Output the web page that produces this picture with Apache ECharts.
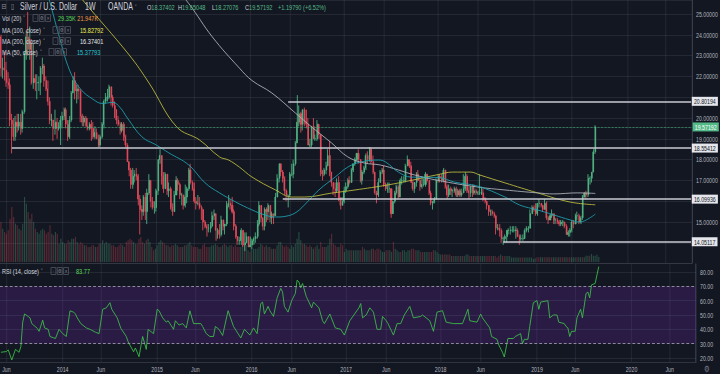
<!DOCTYPE html>
<html>
<head>
<meta charset="utf-8">
<script src="https://cdn.jsdelivr.net/npm/echarts@6/dist/echarts.min.js"></script>
<style>
html,body{margin:0;padding:0;background:#131722;width:720px;height:374px;overflow:hidden;}
#chart{width:1028px;height:374px;transform:scaleX(0.7003891);transform-origin:0 0;}
</style>
</head>
<body>
<div id="chart"></div>
<script>
// ---------------- DATA ----------------
const firstWeek = '2013-05-13';
const weekCount = 383;

// weekly candles [open, high, low, close]
const ohlc2013 = [
[23.9,24.0,22.0,22.4],[22.4,22.9,21.9,22.4],[22.4,23.2,21.8,22.3],[22.3,22.7,21.5,21.7],[21.7,22.2,21.4,21.6],
[21.6,21.9,19.6,19.9],[19.9,20.2,18.3,19.7],[19.7,20.0,18.9,19.1],[19.1,20.1,18.9,19.8],[19.8,20.2,19.3,19.6],
[19.6,20.2,19.4,19.8],[19.8,20.2,19.2,19.5],[19.5,20.4,19.3,20.3],[20.3,23.2,20.2,23.1],[23.1,24.2,22.8,23.9],
[23.9,25.1,23.0,23.3],[23.3,24.4,22.8,23.6],[23.6,23.8,21.6,21.7],[21.7,23.6,21.4,21.9],[21.9,22.1,21.3,21.7],
[21.7,22.1,20.9,21.7],[21.7,22.0,21.3,21.7],[21.7,22.5,21.1,22.4],[22.4,22.9,22.1,22.5],[22.5,22.6,21.5,21.8],
[21.8,22.0,21.3,21.4],[21.4,21.8,20.6,20.8],[20.8,21.0,19.7,19.9],[19.9,20.2,19.6,19.9],[19.9,19.9,18.9,19.5],
[19.5,20.4,19.2,19.8],[19.8,20.0,19.0,19.5],[19.5,19.8,19.4,19.6],[19.6,20.1,18.7,19.9]
];
const ohlc2014 = [
[19.9,20.3,19.5,20.1],[20.1,20.5,19.9,20.4],[20.4,20.5,19.5,19.7],[19.7,19.9,18.9,19.1],[19.1,20.1,19.0,19.9],
[19.9,21.3,19.8,21.2],[21.2,22.0,21.2,21.8],[21.8,22.2,20.9,21.3],[21.3,21.6,20.7,21.4],[21.4,21.6,20.9,21.3],
[21.3,21.4,19.8,20.1],[20.1,20.2,19.6,19.8],[19.8,20.1,19.6,20.0],[20.0,20.1,19.6,19.6],[19.6,20.0,19.4,19.5],
[19.5,19.8,19.4,19.7],[19.7,19.9,18.9,19.5],[19.5,19.8,19.0,19.1],[19.1,19.6,19.0,19.3],[19.3,19.5,19.0,19.0],
[19.0,19.2,18.6,18.7],[18.7,19.2,18.6,19.1],[19.1,19.8,19.0,19.7],[19.7,20.9,19.5,20.8],[20.8,21.2,20.7,21.0],
[21.0,21.4,20.8,21.0],[21.0,21.6,20.9,21.5],[21.5,21.5,20.6,21.0],[21.0,21.1,20.5,20.6],[20.6,20.8,20.0,20.4],
[20.4,20.4,19.7,19.9],[19.9,20.1,19.6,19.7],[19.7,19.8,19.2,19.4],[19.4,19.8,19.3,19.7],[19.7,19.8,18.9,19.1],
[19.1,19.2,18.6,18.7],[18.7,18.8,17.9,17.9],[17.9,17.9,17.2,17.5],[17.5,17.6,16.6,16.8],[16.8,17.6,16.6,17.2],
[17.2,17.5,16.9,17.3],[17.3,17.6,17.0,17.2],[17.2,17.3,15.8,16.1],[16.1,16.3,14.4,15.6],[15.6,15.8,15.1,15.5],
[15.5,16.3,15.3,16.2],[16.2,16.4,15.1,15.5],[15.5,16.6,14.9,16.4],[16.4,17.3,16.3,17.0],[17.0,17.0,15.7,16.0],
[16.0,16.2,15.6,15.7],[15.7,16.0,15.4,15.7]
];
const ohlc2015 = [
[15.7,16.6,15.5,16.5],[16.5,18.0,16.3,18.0],[18.0,18.5,17.8,18.2],[18.2,18.2,16.8,17.2],[17.2,17.4,16.4,16.6],
[16.6,17.4,16.6,17.3],[17.3,17.3,16.3,16.5],[16.5,16.9,16.2,16.6],[16.6,16.7,15.6,15.7],[15.7,15.9,15.3,15.5],
[15.5,16.5,15.5,16.3],[16.3,17.2,16.3,17.0],[17.0,17.1,16.5,16.8],[16.8,16.9,16.1,16.3],[16.3,16.4,15.8,16.3],
[16.3,16.3,15.6,15.8],[15.8,16.8,15.7,16.2],[16.2,16.7,15.9,16.6],[16.6,17.6,16.5,17.5],[17.5,17.8,16.8,16.9],
[16.9,17.0,16.5,16.6],[16.6,16.9,15.9,16.0],[16.0,16.2,15.6,15.9],[15.9,16.3,15.8,15.9],[15.9,16.2,15.6,15.7],
[15.7,15.8,15.1,15.6],[15.6,15.6,14.6,15.0],[15.0,15.1,14.7,14.8],[14.8,14.9,14.3,14.7],[14.7,14.9,14.5,14.7],
[14.7,15.0,14.5,14.8],[14.8,15.5,14.8,15.3],[15.3,15.6,15.1,15.4],[15.4,15.4,14.1,14.6],[14.6,14.7,14.2,14.6],
[14.6,14.9,14.2,14.4],[14.4,15.3,14.3,15.1],[15.1,15.1,14.6,14.8],[14.8,14.9,14.4,14.9],[14.9,16.0,14.8,15.8],
[15.8,16.3,15.7,15.9],[15.9,16.1,15.6,15.8],[15.8,16.2,15.4,15.5],[15.5,15.6,14.6,14.8],[14.8,14.9,14.2,14.3],
[14.3,14.3,13.9,14.1],[14.1,14.3,13.9,14.1],[14.1,14.7,13.9,14.6],[14.6,14.6,13.8,13.9],[13.9,14.5,13.6,14.0],
[14.0,14.5,14.0,14.3],[14.3,14.3,13.8,13.8]
];
const ohlc2016 = [
[13.8,14.3,13.8,13.9],[13.9,14.2,13.7,14.1],[14.1,14.3,13.9,14.2],[14.2,14.5,14.0,14.3],[14.3,15.1,14.2,14.9],
[14.9,16.0,14.8,15.8],[15.8,15.8,15.0,15.2],[15.2,15.2,14.6,14.8],[14.8,15.7,14.6,15.6],[15.6,15.7,15.0,15.5],
[15.5,15.9,15.1,15.8],[15.8,15.8,15.0,15.2],[15.2,15.5,14.9,15.4],[15.4,15.4,14.9,15.3],[15.3,16.4,15.3,16.2],
[16.2,17.3,16.2,17.1],[17.1,17.8,16.9,17.8],[17.8,17.8,17.2,17.4],[17.4,17.5,16.9,17.1],[17.1,17.2,16.3,16.5],
[16.5,16.6,16.0,16.3],[16.3,16.3,15.7,16.3],[16.3,17.4,16.2,17.3],[17.3,17.8,17.2,17.3],[17.3,18.0,17.1,17.8],
[17.8,18.9,17.7,18.8],[18.8,21.1,18.8,19.8],[19.8,20.6,19.6,20.2],[20.2,20.3,19.3,19.7],[19.7,20.4,19.4,20.4],
[20.4,20.5,19.6,19.8],[19.8,20.4,19.5,19.7],[19.7,20.0,18.7,18.7],[18.7,19.0,18.6,18.7],[18.7,19.6,18.6,19.6],
[19.6,20.0,19.0,19.0],[19.0,19.2,18.9,19.0],[19.0,19.9,18.9,19.7],[19.7,19.7,19.0,19.2],[19.2,19.2,17.2,17.4],
[17.4,17.5,17.0,17.3],[17.3,17.6,17.2,17.5],[17.5,17.9,17.3,17.7],[17.7,18.5,17.7,18.2],[18.2,18.9,17.2,17.4],
[17.4,17.4,16.7,16.9],[16.9,16.9,16.3,16.6],[16.6,16.9,16.2,16.5],[16.5,17.1,16.4,16.9],[16.9,17.2,16.0,16.1],
[16.1,16.2,15.6,15.8],[15.8,16.2,15.8,16.0]
];
const ohlc2017 = [
[16.0,16.7,15.9,16.5],[16.5,16.9,16.4,16.7],[16.7,17.1,16.6,17.0],[17.0,17.2,16.8,16.9],[16.9,17.6,16.9,17.5],
[17.5,17.8,17.4,17.8],[17.8,18.1,17.7,18.0],[18.0,18.3,17.9,18.3],[18.3,18.5,17.8,18.0],[18.0,18.0,16.9,17.0],
[17.0,17.5,16.8,17.4],[17.4,17.7,17.3,17.6],[17.6,18.3,17.5,18.2],[18.2,18.4,17.8,18.0],[18.0,18.6,17.9,18.5],
[18.5,18.6,17.8,17.9],[17.9,18.2,17.3,17.4],[17.4,17.4,16.3,16.4],[16.4,16.5,15.9,16.3],[16.3,17.1,16.2,16.9],
[16.9,17.5,16.9,17.4],[17.4,17.6,17.3,17.5],[17.5,17.7,16.7,16.8],[16.8,16.9,16.5,16.6],[16.6,16.9,16.4,16.6],
[16.6,16.9,16.4,16.6],[16.6,16.6,15.2,15.4],[15.4,16.0,15.4,16.0],[16.0,16.5,15.9,16.4],[16.4,16.8,16.3,16.7],
[16.7,16.8,16.1,16.2],[16.2,17.1,16.2,17.0],[17.0,17.2,16.8,17.0],[17.0,17.2,16.9,17.0],[17.0,17.8,16.9,17.7],
[17.7,18.2,17.7,18.0],[18.0,18.0,17.6,17.7],[17.7,17.9,16.9,16.9],[16.9,17.0,16.5,16.6],[16.6,16.8,16.4,16.9],
[16.9,17.4,16.7,17.3],[17.3,17.5,17.0,17.0],[17.0,17.1,16.5,16.7],[16.7,17.2,16.6,16.8],[16.8,17.1,16.7,16.8],
[16.8,17.4,16.7,17.3],[17.3,17.3,16.9,17.0],[17.0,17.0,16.3,16.4],[16.4,16.5,15.8,15.9],[15.9,16.0,15.6,16.0],
[16.0,16.2,15.9,16.1],[16.1,17.1,16.1,17.0]
];
const ohlc2018 = [
[17.0,17.3,16.9,17.2],[17.2,17.3,16.9,17.1],[17.1,17.3,16.9,17.0],[17.0,17.6,16.9,17.5],[17.5,17.5,16.6,16.7],
[16.7,16.8,16.1,16.3],[16.3,16.8,16.2,16.6],[16.6,16.7,16.3,16.5],[16.5,16.6,16.2,16.5],[16.5,16.7,16.4,16.6],
[16.6,16.7,16.2,16.3],[16.3,16.6,16.2,16.5],[16.5,16.6,16.2,16.3],[16.3,16.6,16.2,16.4],[16.4,17.3,16.4,16.6],
[16.6,17.4,16.5,17.2],[17.2,17.3,16.4,16.5],[16.5,16.7,16.1,16.4],[16.4,16.7,16.2,16.7],[16.7,16.8,16.2,16.4],
[16.4,16.8,16.3,16.5],[16.5,16.6,16.3,16.4],[16.4,16.5,16.3,16.4],[16.4,17.3,16.3,16.4],[16.4,16.7,16.3,16.4],
[16.4,16.6,16.0,16.1],[16.1,16.2,15.9,16.0],[16.0,16.0,15.6,15.8],[15.8,15.8,15.3,15.5],[15.5,15.6,15.3,15.5],
[15.5,15.6,15.3,15.4],[15.4,15.5,15.2,15.3],[15.3,15.3,14.4,14.7],[14.7,14.9,14.6,14.7],[14.7,14.9,14.3,14.6],
[14.6,14.7,14.0,14.2],[14.2,14.3,13.9,14.2],[14.2,14.4,14.0,14.3],[14.3,14.4,14.0,14.6],[14.6,14.7,14.4,14.6],
[14.6,14.8,14.4,14.6],[14.6,14.8,14.5,14.6],[14.6,14.8,14.5,14.6],[14.6,14.8,14.2,14.6],[14.6,14.7,14.3,14.3],
[14.3,14.4,13.9,14.2],[14.2,14.4,14.1,14.2],[14.2,14.4,14.1,14.2],[14.2,14.7,14.2,14.6],[14.6,14.8,14.5,14.7],
[14.7,14.8,14.5,14.7],[14.7,15.6,14.7,15.4],[15.4,15.8,15.4,15.7]
];
const ohlc2019 = [
[15.7,15.8,15.5,15.6],[15.6,15.9,15.3,15.4],[15.4,15.9,15.3,15.9],[15.9,16.1,15.7,15.9],[15.9,15.9,15.7,15.8],
[15.8,15.8,15.5,15.6],[15.6,16.1,15.6,15.9],[15.9,16.0,15.1,15.2],[15.2,15.3,14.9,15.1],[15.1,15.4,15.1,15.3],
[15.3,15.6,15.2,15.4],[15.4,15.4,14.9,15.1],[15.1,15.2,14.9,15.1],[15.1,15.2,14.9,15.0],[15.0,15.1,14.8,14.9],
[14.9,15.1,14.8,15.0],[15.0,15.1,14.8,15.0],[15.0,15.0,14.7,14.8],[14.8,14.9,14.4,14.4],[14.4,14.6,14.3,14.5],
[14.5,14.7,14.3,14.6],[14.6,15.1,14.5,15.0],[15.0,15.1,14.7,14.9],[14.9,15.4,14.9,15.3],[15.3,15.5,15.1,15.3],
[15.3,15.4,14.9,15.0],[15.0,15.3,14.9,15.2],[15.2,16.3,15.1,16.2],[16.2,16.4,16.2,16.4],[16.4,16.5,16.1,16.3],
[16.3,17.3,16.2,17.1],[17.1,17.2,16.8,17.1],[17.1,17.4,16.9,17.4],[17.4,18.5,17.4,18.37402],[18.37402,19.65048,18.27076,19.57192]
];

// weekly volume (thousands)
const vol2013 = [240,200,180,170,190,260,330,270,230,220,200,190,230,390,350,300,260,290,240,200,180,170,190,200,190,170,180,220,170,160,180,170,110,140];
const vol2014 = [120,110,110,130,120,140,140,150,120,110,120,110,100,100,90,90,100,100,90,90,110,110,130,110,120,110,110,100,100,90,90,100,110,100,90,120,130,140,130,120,110,110,140,150,120,110,130,140,120,90,70,80];
const vol2015 = [100,120,130,120,110,100,100,90,100,100,110,100,90,90,90,100,100,110,120,100,90,90,90,80,80,100,110,90,90,90,100,100,110,100,90,90,100,110,100,90,100,100,90,100,90,90,90,100,110,100,70,60];
const vol2016 = [80,80,80,80,90,110,100,90,100,90,90,80,80,80,100,120,120,100,90,100,90,80,100,90,110,140,180,130,110,110,100,90,100,90,80,90,100,80,120,90,90,90,100,140,170,110,100,90,90,110,100,60];
const vol2017 = [80,70,70,70,70,70,70,70,70,90,80,70,70,70,80,80,70,80,80,70,60,60,70,70,70,60,120,80,70,60,60,70,70,60,70,70,80,80,70,70,70,60,60,60,60,60,60,60,70,70,60,50];
const vol2018 = [45,45,45,45,45,45,36,36,36,36,36,36,36,36,45,45,36,36,36,36,36,36,36,36,36,36,36,36,36,36,36,27,36,45,36,36,36,36,36,27,27,27,27,27,27,27,27,27,27,27,27,18,22];
const vol2019 = [28,28,28,28,28,28,28,28,28,28,28,28,28,28,28,28,28,28,28,28,28,28,28,28,28,28,28,38,38,38,48,38,38,44,29.35];

// moving averages: [week index, value]
const ma50Points = [[22,27.0],[27,25.6],[32,24.0],[38,22.3],[44,21.4],[51,20.9],[56,20.7],[62,20.75],[66,20.5],[70,20.0],[78,19.1],[86,18.7],[93,18.32],[104,17.74],[113,16.88],[121,16.4],[130,15.96],[139,15.58],[146,15.34],[152,15.24],[159,15.3],[164,15.5],[169,15.91],[176,16.54],[185,17.16],[192,17.64],[199,17.88],[209,17.98],[213,17.88],[220,17.4],[227,17.16],[242,17.14],[251,16.92],[264,16.72],[279,16.2],[287,15.82],[297,15.58],[306,15.34],[315,15.1],[320,15.0],[324,15.1],[329,15.37793]];
const ma100Points = [[38,26.5],[45,25.7],[71,23.03],[82,21.68],[97,19.6],[110,18.94],[121,18.13],[126,17.98],[132,17.64],[139,17.16],[152,16.54],[161,16.2],[168,16.2],[183,16.39],[196,16.54],[214,16.78],[227,17.0],[242,17.28],[250,17.4],[260,17.4],[265,17.26],[279,16.88],[297,16.4],[315,15.96],[329,15.82792]];
const ma200Points = [[96,26.3],[104,25.5],[117,23.9],[132,22.4],[139,21.8],[150,21.2],[163,20.24],[172,19.57],[183,18.8],[192,18.13],[201,17.84],[210,17.74],[220,17.5],[229,17.26],[242,17.0],[264,16.68],[279,16.54],[297,16.4],[306,16.35],[319,16.4],[329,16.37401]];

// RSI(14): [week index, value]
const rsiPoints = [[0,24],[3,24.5],[4,25.7],[6,18.6],[8,26],[10,24],[11,28],[12,45],[13,50.7],[15,49],[16,48],[17,44],[20,40.7],[21,38.6],[23,46.4],[24,41],[26,40],[27,35],[30,33.6],[32,40],[34,37],[36,35],[38,52.9],[40,52],[41,50.7],[42,48],[44,44],[47,41],[49,40],[52,38],[54,37],[56,54],[58,55],[60,58.6],[61,54],[64,48],[66,40.7],[69,35],[70,31.4],[73,24.3],[74,27],[76,20.9],[78,35],[80,26],[81,40],[84,37],[86,54],[87,53],[89,48],[91,45],[92,46],[95,40],[96,46],[98,43],[100,44],[102,41],[104,52.9],[106,44],[110,44],[111,42],[113,37],[115,35],[117,35],[118,42],[120,40],[122,35.7],[125,53],[128,42],[132,34],[134,40],[137,36],[139,41],[141,37],[143,58],[144,59],[145,50.7],[147,56],[148,53],[150,49],[152,62],[154,68.6],[155,66],[156,56],[158,52],[160,60],[162,65],[163,74.3],[164,73],[165,69],[166,72],[168,63],[171,55],[172,59],[175,55],[177,46],[178,44],[181,50.7],[184,41],[187,40],[189,36],[192,46],[197,55],[198,58],[199,48],[201,50],[203,55],[205,52],[207,40],[209,40],[210,49],[212,46],[213,44],[216,36],[218,44],[220,44],[222,50],[225,56],[227,48],[231,49],[232,50],[236,46],[238,38.6],[240,52],[243,53],[245,45],[249,44],[251,44],[254,44],[257,54],[258,46],[262,45],[264,50.7],[265,48],[269,41],[270,35],[273,33],[274,29],[276,24],[277,20.7],[279,33.6],[282,33.6],[283,35],[286,37],[287,30],[288,33],[290,33],[291,42],[293,58.6],[295,60],[296,54],[297,59],[301,60],[302,48],[304,50],[306,50],[307,45],[310,44],[311,42],[312,41],[313,35],[314,38.6],[316,38.6],[317,48],[319,54],[320,48],[322,65],[323,66],[324,62],[325,71],[327,72],[328,77.9],[329,83.77]];

// drawn horizontal levels
const levelValues = [20.80194, 18.55412, 16.09936, 14.05117];
const levelStartWeeks = [159, 6, 156, 278];
const rsiBand = [30, 70];
const rsiGuides = [20, 40, 50, 60, 80];

// legend values
const volLegend = ['29.35K', '21.947K'];
const maLegend = { ma100: '15.82792', ma200: '16.37401', ma50: '15.37793' };
const rsiLegend = '83.77';
const tickMonths = { 1: null, 6: 'Jun' };

// ---------------- BUILD ----------------
const allOhlc = [].concat(ohlc2013, ohlc2014, ohlc2015, ohlc2016, ohlc2017, ohlc2018, ohlc2019);
const allVol = [].concat(vol2013, vol2014, vol2015, vol2016, vol2017, vol2018, vol2019);
if (allOhlc.length !== 330 || allVol.length !== 330) throw new Error('length ' + allOhlc.length + ' ' + allVol.length);

const categories = [];
(function () {
  const t0 = Date.parse(firstWeek + 'T00:00:00Z');
  for (let i = 0; i < weekCount; i++) categories.push(new Date(t0 + i * 7 * 86400000).toISOString().slice(0, 10));
})();

const SX = 720 / 1028;
const PX = v => v / SX;
const FONT = '"Liberation Sans", Arial, "DejaVu Sans", sans-serif';
const UP = '#53b987', DOWN = '#eb4d5c';
const VOL_UP = 'rgba(83,185,135,0.32)', VOL_DOWN = 'rgba(235,77,92,0.32)';
const GRIDC = 'rgba(120,123,134,0.2)';
const GRID_RIGHT = 1028 - PX(696);

const candleData = allOhlc.map(r => [r[0], r[3], r[2], r[1]]);
const volData = allVol.map((v, i) => ({ value: v, itemStyle: { color: allOhlc[i][3] >= allOhlc[i][0] ? VOL_UP : VOL_DOWN } }));
const last = allOhlc[allOhlc.length - 1];
const chg = last[3] - last[0];
const pct = chg / last[0] * 100;

const isTick = v => { const m = +v.slice(5, 7), d = +v.slice(8, 10); return (m in tickMonths) && d <= 7; };
const tickLabel = v => { const m = +v.slice(5, 7); return tickMonths[m] || v.slice(0, 4); };
// axis labels hidden where a level's price box covers them
const priceLabel = v => {
  if (Math.abs(v - Math.round(v)) > 1e-6) return '';
  if (levelValues.some(l => Math.abs(l - v) < 0.35)) return '';
  return v.toFixed(5);
};

function xAxis(gi, labels) {
  return {
    type: 'category', gridIndex: gi, data: categories, boundaryGap: true,
    axisLine: { show: gi !== 1, lineStyle: { color: '#363a45' } },
    axisTick: { show: false },
    axisLabel: labels ? { show: true, interval: (i, v) => isTick(v), formatter: tickLabel, color: '#b2b5be', fontSize: 7.5, margin: 3, fontFamily: FONT } : { show: false },
    splitLine: gi === 1 ? { show: false } : { show: true, interval: (i, v) => isTick(v), alignWithLabel: true, lineStyle: { color: GRIDC } }
  };
}

const rich = {
  t: { color: '#d1d4dc', fontSize: 10, fontFamily: FONT, lineHeight: 12 },
  w: { color: '#d1d4dc', fontSize: 8, fontFamily: FONT, lineHeight: 12 },
  g: { color: UP, fontSize: 8, fontFamily: FONT, lineHeight: 12 },
  dd: { color: '#9598a1', fontSize: 7, fontFamily: '"DejaVu Sans", sans-serif', lineHeight: 12 },
  ic: { color: '#9598a1', fontSize: 8, fontFamily: '"DejaVu Sans", sans-serif', lineHeight: 12 },
  b: { color: '#8a8d96', fontSize: 5.5, fontFamily: '"DejaVu Sans", sans-serif', borderColor: '#4e525e', borderWidth: 1, width: 7, height: 7, lineHeight: 7, align: 'center' },
  s: { width: 2, fontSize: 5 },
  lg: { color: '#5ad65a', fontSize: 8, fontFamily: FONT, lineHeight: 12 },
  or: { color: '#f29b44', fontSize: 8, fontFamily: FONT, lineHeight: 12 },
  ye: { color: '#eded55', fontSize: 8, fontFamily: FONT, lineHeight: 12 },
  wh: { color: '#e8e8e8', fontSize: 8, fontFamily: FONT, lineHeight: 12 },
  cy: { color: '#2ec6d6', fontSize: 8, fontFamily: FONT, lineHeight: 12 }
};
const icons = '{b|◦}{s| }{b|⚙}{s| }{b|×}';
function T(xs, yc, text) {
  return { left: PX(xs), top: yc - 6, padding: 0, text: text, textStyle: { rich: rich, fontSize: 8, fontWeight: 'normal', lineHeight: 12 } };
}
const titles = [
  T(1.5, 7, '{ic|⊟}'),
  T(11, 7, '{ic|▯}'),
  T(20, 7, '{t|Silver / U.S. Dollar}'),
  T(85, 7, '{t|1W}'),
  T(108, 7, '{t|OANDA}{dd| ˅}'),
  T(147, 7, '{w|O}{g|' + last[0].toFixed(5) + '}'),
  T(178, 7, '{w|H}{g|' + last[1].toFixed(5) + '}'),
  T(212, 7, '{w|L}{g|' + last[2].toFixed(5) + '}'),
  T(245, 7, '{w|C}{g|' + last[3].toFixed(5) + '}'),
  T(278, 7, '{g|' + (chg >= 0 ? '+' : '') + chg.toFixed(5) + ' (' + (pct >= 0 ? '+' : '') + pct.toFixed(2) + '%)}'),
  T(2, 18, '{w|Vol (20)}{dd| ˅}'), T(33, 18, icons), T(58, 18, '{lg|' + volLegend[0] + '} {or|' + volLegend[1] + '}'),
  T(2, 30, '{w|MA (100, close)}{dd| ˅}'), T(53, 30, icons), T(80, 30, '{ye|' + maLegend.ma100 + '}'),
  T(2, 41, '{w|MA (200, close)}{dd| ˅}'), T(53, 41, icons), T(80, 41, '{wh|' + maLegend.ma200 + '}'),
  T(2, 52, '{w|MA (50, close)}{dd| ˅}'), T(49, 52, icons), T(77, 52, '{cy|' + maLegend.ma50 + '}'),
  T(2, 271, '{w|RSI (14, close)}{dd| ˅}'), T(51, 271, icons), T(76, 271, '{lg|' + rsiLegend + '}'),
  { left: PX(704), top: 365, padding: 0, text: '⚙', textStyle: { color: '#787b86', fontSize: 9, fontWeight: 'normal', fontFamily: '"DejaVu Sans", sans-serif' } }
];

const option = {
  backgroundColor: '#131722',
  animation: false,
  textStyle: { fontFamily: FONT },
  title: titles,
  grid: [
    { left: 0, right: GRID_RIGHT, top: 0, height: 263 },
    { left: 0, right: GRID_RIGHT, top: 132, height: 130 },
    { left: 0, right: GRID_RIGHT, top: 264, height: 98 }
  ],
  xAxis: [xAxis(0, false), xAxis(1, false), xAxis(2, true)],
  yAxis: [
    {
      type: 'value', gridIndex: 0, position: 'right', min: 13.029, max: 25.673, minInterval: 1, maxInterval: 1,
      axisLine: { show: true, lineStyle: { color: '#4a4f5c' } }, axisTick: { show: false },
      axisLabel: { margin: PX(4), color: '#b2b5be', fontSize: 7.5, fontFamily: FONT, formatter: priceLabel },
      splitLine: { show: true, lineStyle: { color: GRIDC } }
    },
    { type: 'value', gridIndex: 1, min: 0, max: 780, show: false, splitLine: { show: false } },
    {
      type: 'value', gridIndex: 2, position: 'right', min: 17.21, max: 85.58, minInterval: 10, maxInterval: 10,
      axisLine: { show: true, lineStyle: { color: '#4a4f5c' } }, axisTick: { show: false },
      axisLabel: { margin: PX(4), color: '#b2b5be', fontSize: 7.5, fontFamily: FONT, formatter: v => Math.abs(v / 10 - Math.round(v / 10)) < 1e-6 ? v.toFixed(2) : '' },
      splitLine: { show: false }
    }
  ],
  series: [
    {
      type: 'bar', xAxisIndex: 1, yAxisIndex: 1, data: volData, barWidth: '62%', silent: true
    },
    {
      type: 'candlestick', xAxisIndex: 0, yAxisIndex: 0, data: candleData, barWidth: '60%', silent: true, clip: false,
      itemStyle: { color: UP, color0: DOWN, borderColor: UP, borderColor0: DOWN, borderWidth: 1 },
      markLine: {
        silent: true, symbol: 'none', animation: false,
        lineStyle: { color: '#c9cbd2', width: 1.6, type: 'solid' },
        label: {
          show: true, position: 'end', distance: 1, formatter: p => levelValues[p.dataIndex].toFixed(5),
          backgroundColor: '#e4e6eb', color: '#131722', fontSize: 7.5, lineHeight: 8, padding: [1, 3, 0, 3], fontFamily: FONT
        },
        data: levelValues.map((v, i) => [{ coord: [levelStartWeeks[i], v] }, { coord: [weekCount - 1, v] }])
      }
    },
    {
      type: 'line', xAxisIndex: 0, yAxisIndex: 0, data: ma100Points, smooth: 0.4, showSymbol: false, silent: true, z: 3,
      lineStyle: { color: '#c2c23e', width: 1 }
    },
    {
      type: 'line', xAxisIndex: 0, yAxisIndex: 0, data: ma200Points, smooth: 0.4, showSymbol: false, silent: true, z: 3,
      lineStyle: { color: '#b4b7bf', width: 1 }
    },
    {
      type: 'line', xAxisIndex: 0, yAxisIndex: 0, data: ma50Points, smooth: 0.4, showSymbol: false, silent: true, z: 3, clip: false,
      lineStyle: { color: '#1fa5b5', width: 1 },
      markLine: {
        silent: true, symbol: 'none', animation: false,
        lineStyle: { color: UP, width: 1, type: 'dotted' },
        label: {
          show: true, position: 'end', distance: 1, formatter: () => last[3].toFixed(5),
          backgroundColor: UP, color: '#ffffff', fontSize: 7.5, lineHeight: 8, padding: [1, 3, 0, 3], fontFamily: FONT
        },
        data: [{ yAxis: last[3] }]
      }
    },
    {
      type: 'line', xAxisIndex: 2, yAxisIndex: 2, data: rsiPoints, showSymbol: false, silent: true, z: 4,
      lineStyle: { color: '#3cc449', width: 1 },
      markArea: { silent: true, itemStyle: { color: 'rgba(134,43,209,0.2)' }, data: [[{ yAxis: rsiBand[0] }, { yAxis: rsiBand[1] }]] },
      markLine: {
        silent: true, symbol: 'none', animation: false, label: { show: false },
        data: rsiGuides.map(v => ({ yAxis: v, lineStyle: { color: GRIDC, type: 'solid', width: 1 } }))
          .concat(rsiBand.map(v => ({ yAxis: v, lineStyle: { color: '#9ea1aa', type: [4, 3], width: 1 } })))
      }
    }
  ]
};

const chart = echarts.init(document.getElementById('chart'), null, { renderer: 'svg' });
chart.setOption(option);
</script>
</body>
</html>
